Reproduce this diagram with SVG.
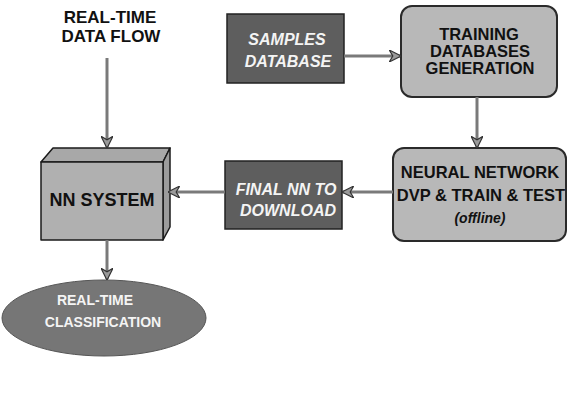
<svg xmlns="http://www.w3.org/2000/svg" width="568" height="393" viewBox="0 0 568 393">
<style>
.dark{fill:#5e5e5e;stroke:#222;stroke-width:1.5}
.light{fill:#b8b8b8;stroke:#2a2a2a;stroke-width:2}
.box3d{fill:#b0b0b0;stroke:#1a1a1a;stroke-width:1.5;stroke-linejoin:round}
.ell{fill:#767676;stroke:#555;stroke-width:1}
.t{font-family:"Liberation Sans",Arial,sans-serif;font-weight:bold;text-anchor:middle}
.blk{fill:#111}
.wht{fill:#f4f4f4}
.it{font-style:italic}
.conn{stroke:#7a7a7a;stroke-width:3;fill:none}
</style>
<defs>
<marker id="ah" viewBox="0 0 10 10" refX="9" refY="5" markerWidth="4" markerHeight="4" orient="auto" markerUnits="strokeWidth">
<path d="M0,0 L10,5 L0,10 L3,5 Z" fill="#9a9a9a" stroke="#333" stroke-width="1"/>
</marker>
</defs>

<g id="label-realtime-flow">
<text class="t blk" x="110" y="23" font-size="17">REAL-TIME</text>
<text class="t blk" x="111" y="42" font-size="17">DATA FLOW</text>
</g>

<g id="samples-database">
<rect class="dark" x="227" y="14" width="117" height="69"/>
<text class="t wht it" x="287" y="45" font-size="16">SAMPLES</text>
<text class="t wht it" x="288" y="67" font-size="16">DATABASE</text>
</g>

<g id="training-generation">
<rect class="light" x="401" y="6" width="156" height="91" rx="11"/>
<text class="t blk" x="479" y="40" font-size="16.5">TRAINING</text>
<text class="t blk" x="480" y="57" font-size="16.5">DATABASES</text>
<text class="t blk" x="480" y="74" font-size="16.5">GENERATION</text>
</g>

<g id="neural-network">
<rect class="light" x="393" y="148" width="173" height="93" rx="11"/>
<text class="t blk" x="480" y="178" font-size="16.5">NEURAL NETWORK</text>
<text class="t blk" x="481" y="201" font-size="16.5">DVP &amp; TRAIN &amp; TEST</text>
<text class="t blk it" x="480" y="223" font-size="14">(offline)</text>
</g>

<g id="final-nn">
<rect class="dark" x="225" y="161" width="117" height="68"/>
<text class="t wht it" x="286" y="195" font-size="16">FINAL NN TO</text>
<text class="t wht it" x="288" y="216" font-size="16">DOWNLOAD</text>
</g>

<g id="nn-system">
<polygon class="box3d" points="41,162 53,148 170,148 163,162" style="fill:#a8a8a8"/>
<polygon class="box3d" points="163,162 170,148 170,227 163,240" style="fill:#9c9c9c"/>
<rect class="box3d" x="41" y="162" width="122" height="78"/>
<text class="t blk" x="102" y="206" font-size="18">NN SYSTEM</text>
</g>

<g id="realtime-classification">
<ellipse class="ell" cx="104" cy="318" rx="102" ry="38"/>
<text class="t wht" x="95" y="305" font-size="14">REAL-TIME</text>
<text class="t wht" x="103" y="327" font-size="14">CLASSIFICATION</text>
</g>

<g id="connectors">
<line class="conn" x1="344" y1="56" x2="400" y2="56" marker-end="url(#ah)"/>
<line class="conn" x1="477" y1="97" x2="477" y2="147" marker-end="url(#ah)"/>
<line class="conn" x1="393" y1="192" x2="343" y2="192" marker-end="url(#ah)"/>
<line class="conn" x1="225" y1="192" x2="169" y2="192" marker-end="url(#ah)"/>
<line class="conn" x1="107" y1="58" x2="107" y2="147" marker-end="url(#ah)"/>
<line class="conn" x1="107" y1="240" x2="107" y2="279" marker-end="url(#ah)"/>
</g>
</svg>
